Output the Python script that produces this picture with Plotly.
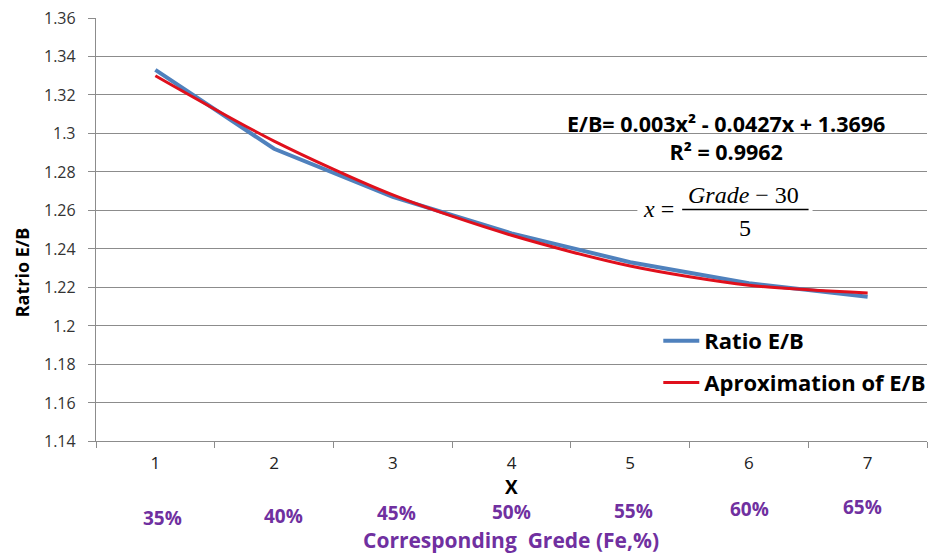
import plotly.graph_objects as go

# ---- data ----
x_cats = ["1", "2", "3", "4", "5", "6", "7"]
ratio_eb = [1.333, 1.292, 1.267, 1.248, 1.233, 1.222, 1.215]
approx_eb = [1.330, 1.296, 1.268, 1.247, 1.231, 1.221, 1.217]
grade_labels = ["35%", "40%", "45%", "50%", "55%", "60%", "65%"]
y_ticks = [1.14, 1.16, 1.18, 1.2, 1.22, 1.24, 1.26, 1.28, 1.3, 1.32, 1.34, 1.36]
y_ticktext = ["1.14", "1.16", "1.18", "1.2", "1.22", "1.24", "1.26", "1.28", "1.3", "1.32", "1.34", "1.36"]

# ---- layout geometry ----
W, H = 933, 553
ML, MR, MT, MB = 96, 2, 18, 112
PW, PH = W - ML - MR, H - MT - MB

def px(xp):
    return (xp - ML) / PW

def py(yp):
    return (H - MB - yp) / PH

grade_dx = [7, 9, 4, 0, 3, 1, -5]
grade_py = [518, 516, 513, 512, 511, 509, 507]

GRID = "#8c8c8c"
PURPLE = "#7030A0"
FONT = "Open Sans"

fig = go.Figure()
fig.add_trace(go.Scatter(
    x=x_cats, y=ratio_eb, mode="lines", name="Ratio E/B",
    line=dict(color="#4F81BD", width=4), legendgroup="a"))
fig.add_trace(go.Scatter(
    x=x_cats, y=approx_eb, mode="lines", name="Aproximation of E/B",
    line=dict(color="#E0101C", width=3, shape="spline", smoothing=0.8), legendgroup="b"))

def ann(text, x, y, size, color="black", family=FONT, xref="paper", yref="paper", **kw):
    d = dict(text=text, xref=xref, yref=yref, x=x, y=y, showarrow=False,
             xanchor="center", yanchor="middle",
             font=dict(family=family, size=size, color=color))
    d.update(kw)
    return d

annotations = []
# y tick labels (placed further from the axis, as in the reference)
for v, t in zip(y_ticks, y_ticktext):
    annotations.append(ann(t, px(78), v, 16, color="#333333", yref="y", xanchor="right"))
annotations.append(ann("<b>Ratrio E/B</b>", px(22), py(272), 18, textangle=-90))
annotations.append(ann("<b>X</b>", px(513), py(487), 19))
for i, lab in enumerate(grade_labels):
    annotations.append(ann("<b>" + lab + "</b>", i, py(grade_py[i]), 19, color=PURPLE,
                           xref="x", xshift=grade_dx[i]))
annotations.append(ann("<b>Corresponding  Grede (Fe,%)</b>", px(513), py(540), 21, color=PURPLE))
annotations.append(ann("<b>E/B= 0.003x² - 0.0427x + 1.3696</b><br><b>R² = 0.9962</b>",
                       px(729), py(137.5), 21.5))
annotations.append(ann("<i>x</i> =", px(661), py(209), 24, family="Liberation Serif"))
annotations.append(ann("<i>Grade</i> − 30", px(747), py(195), 24, family="Liberation Serif"))
annotations.append(ann("5", px(748), py(228), 24, family="Liberation Serif"))

shapes = [
    dict(type="rect", xref="paper", yref="paper", x0=px(640), x1=px(816),
         y0=py(238), y1=py(182), fillcolor="white", line=dict(width=0), layer="above"),
    dict(type="line", xref="paper", yref="paper", x0=px(685), x1=px(812),
         y0=py(209.5), y1=py(209.5), line=dict(color="black", width=1.5), layer="above"),
]

fig.update_layout(
    width=W, height=H,
    margin=dict(l=ML, r=MR, t=MT, b=MB),
    plot_bgcolor="white", paper_bgcolor="white",
    font=dict(family=FONT, size=16, color="#222222"),
    showlegend=True,
    legend=dict(x=px(661), y=py(320), xanchor="left", yanchor="top",
                bgcolor="rgba(255,255,255,0)", tracegroupgap=10,
                traceorder="grouped", itemwidth=36,
                font=dict(family=FONT, size=22, color="black", weight="bold")),
    annotations=annotations,
    shapes=shapes,
)
fig.update_xaxes(type="category", range=[-0.5, 6.5], tickson="boundaries",
                 ticks="outside", ticklen=6, tickcolor=GRID, showline=True,
                 linecolor=GRID, linewidth=1, showgrid=False, zeroline=False,
                 tickfont=dict(family=FONT, size=17, color="#222222"),
                 ticklabelstandoff=7)
fig.update_yaxes(range=[1.14, 1.36], tickvals=y_ticks, showticklabels=False,
                 ticks="outside", ticklen=7, tickcolor=GRID, showline=True,
                 linecolor=GRID, linewidth=1, showgrid=True, gridcolor=GRID,
                 gridwidth=1, zeroline=False)

fig.write_html("out.html", config={"displayModeBar": False},
               post_script="document.body.style.margin='0';")
